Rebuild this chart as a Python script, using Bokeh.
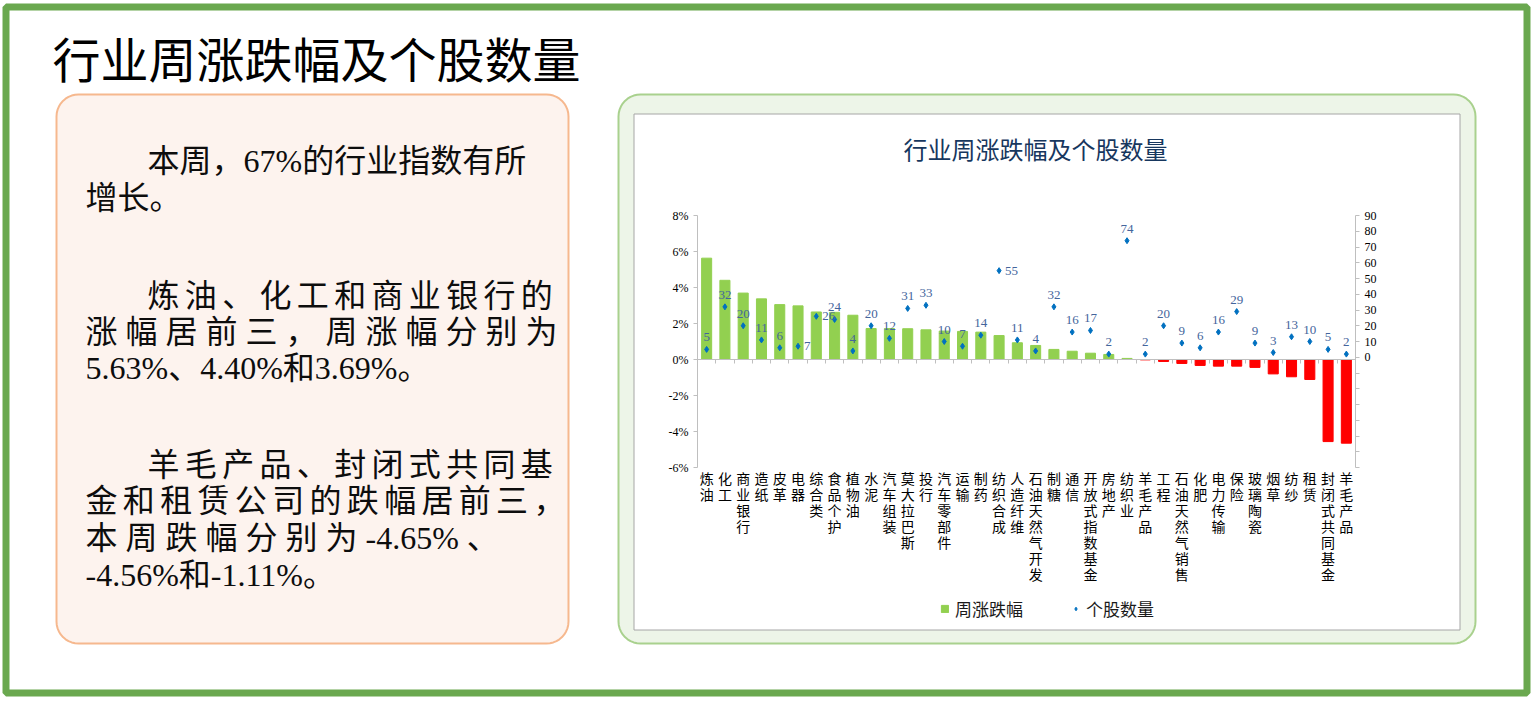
import math
from bokeh.plotting import figure
from bokeh.models import (Range1d, LinearAxis, FixedTicker, PrintfTickFormatter, ColumnDataSource,
                          LabelSet, Legend, LegendItem)
from bokeh.core.properties import value
from bokeh.embed import file_html
from bokeh.resources import INLINE

# ---------------- data ----------------
categories = ["炼油", "化工", "商业银行", "造纸", "皮革", "电器", "综合类", "食品个护", "植物油", "水泥",
              "汽车组装", "莫大拉巴斯", "投行", "汽车零部件", "运输", "制药", "纺织合成", "人造纤维",
              "石油天然气开发", "制糖", "通信", "开放式指数基金", "房地产", "纺织业", "羊毛产品", "工程",
              "石油天然气销售", "化肥", "电力传输", "保险", "玻璃陶瓷", "烟草", "纺纱", "租赁",
              "封闭式共同基金", "羊毛产品"]
weekly_change = [5.63, 4.40, 3.69, 3.37, 3.05, 2.98, 2.64, 2.62, 2.46, 1.72,
                 1.72, 1.71, 1.65, 1.58, 1.56, 1.52, 1.33, 0.93,
                 0.78, 0.56, 0.46, 0.35, 0.28, 0.06, -0.02, -0.11,
                 -0.22, -0.33, -0.37, -0.37, -0.44, -0.80, -0.96, -1.11,
                 -4.56, -4.65]
stock_counts = [5, 32, 20, 11, 6, 7, 26, 24, 4, 20, 12, 31, 33, 10, 7, 14, 55, 11,
                4, 32, 16, 17, 2, 74, 2, 20, 9, 6, 16, 29, 9, 3, 13, 10, 5, 2]
left_ticks = [-6, -4, -2, 0, 2, 4, 6, 8]
right_ticks = list(range(-70, 91, 10))
right_label_idx = [5, 6, 16]   # data labels placed to the right of their point

page_title = "行业周涨跌幅及个股数量"
chart_title = "行业周涨跌幅及个股数量"
series_names = ["周涨跌幅", "个股数量"]
para_lines = [
    ("本周，67%的行业指数有所", True, ""),
    ("增长。", False, ""),
    ("炼油、化工和商业银行的", True, "\u2006"),
    ("涨幅居前三，周涨幅分别为", False, " "),
    ("5.63%、4.40%和3.69%。", False, ""),
    ("羊毛产品、封闭式共同基", True, "\u2006"),
    ("金和租赁公司的跌幅居前三，", False, "\u2006"),
    ("本 周 跌 幅 分 别 为 -4.65%  、", False, ""),
    ("-4.56%和-1.11%。", False, ""),
]
para_line_y = [160, 197, 295, 331, 367, 464, 500, 537, 574]

# ---------------- layout constants (pixels) ----------------
W, H = 1534, 705
FL, FT, FR, FB = 697, 215, 1355, 467          # chart plot area
Y_MIN, Y_MAX = -6, 8
C_MIN, C_MAX = -70, 90
CJK = "Noto Sans CJK SC"
SERIF = "Liberation Serif"
MIXED = "'Liberation Serif', 'Noto Sans CJK SC'"
GRAY = "#BFBFBF"

n = len(categories)
XU = (FR - FL) / n
YU = (FB - FT) / (Y_MAX - Y_MIN)
CU = (FB - FT) / (C_MAX - C_MIN)

p = figure(width=W, height=H, output_backend="svg", toolbar_location=None,
           x_axis_location=None, y_axis_location=None,
           x_range=Range1d(0.5 - FL / XU, 0.5 + (W - FL) / XU),
           y_range=Range1d(Y_MIN - (H - FB) / YU, Y_MAX + FT / YU),
           min_border=0, min_border_left=0, min_border_right=0, min_border_top=0, min_border_bottom=0)
p.title.visible = False
p.extra_y_ranges = {"cnt": Range1d(C_MIN - (H - FB) / CU, C_MAX + FT / CU),
                    "py": Range1d(H, 0)}
p.extra_x_ranges = {"px": Range1d(0, W)}
p.outline_line_color = None
p.background_fill_color = "white"
p.border_fill_color = "white"
p.xgrid.visible = False
p.ygrid.visible = False


def rounded(x0, y0, x1, y1, r, k=10):
    xs_, ys_ = [], []
    corners = [(x1 - r, y0 + r, -90, 0), (x1 - r, y1 - r, 0, 90),
               (x0 + r, y1 - r, 90, 180), (x0 + r, y0 + r, 180, 270)]
    for cx, cy, a0, a1 in corners:
        for j in range(k + 1):
            a = math.radians(a0 + (a1 - a0) * j / k)
            xs_.append(cx + r * math.cos(a))
            ys_.append(cy + r * math.sin(a))
    return xs_, ys_


# ---------------- decorations (pixel space) ----------------
p.quad(left=[5.5], right=[1526.5], top=[6.5], bottom=[692.5], fill_color=None,
       line_color="#6AA84F", line_width=7, x_range_name="px", y_range_name="py")
bx, by = rounded(56, 94, 568, 643, 22)
p.patch(bx, by, fill_color="#FDF3EE", line_color="#F6B88E", line_width=2,
        x_range_name="px", y_range_name="py")
bx, by = rounded(618, 94, 1475, 643, 22)
p.patch(bx, by, fill_color="#EDF5E8", line_color="#A9D18E", line_width=2,
        x_range_name="px", y_range_name="py")
p.quad(left=[633.5], right=[1459.5], top=[113.5], bottom=[629.5], fill_color="white",
       line_color="#A6A6A6", line_width=1, x_range_name="px", y_range_name="py")

# titles and paragraph text
p.text(x=[52], y=[56], text=[page_title], x_range_name="px", y_range_name="py",
       text_font=value(CJK), text_font_size="48px", text_color="black",
       text_align="left", text_baseline="middle")
p.text(x=[1035], y=[148], text=[chart_title], x_range_name="px", y_range_name="py",
       text_font=value(CJK), text_font_size="24px", text_color="#17375E",
       text_align="center", text_baseline="middle")
para_x = [147 if ind else 85 for _, ind, _ in para_lines]
para_t = [(sep.join(list(t)) if sep else t) for t, _, sep in para_lines]
p.text(x=para_x, y=para_line_y, text=para_t, x_range_name="px", y_range_name="py",
       text_font=value(MIXED), text_font_size="32px", text_color="#0d0d0d",
       text_align="left", text_baseline="middle")

# ---------------- chart glyphs ----------------
xs = list(range(1, n + 1))
colors = ["#92D050" if v >= 0 else "#FF0000" for v in weekly_change]
src = ColumnDataSource(dict(x=xs, chg=weekly_change, cnt=stock_counts, color=colors))
above = [i for i in range(n) if i not in right_label_idx]
src_above = ColumnDataSource(dict(x=[xs[i] for i in above], cnt=[stock_counts[i] for i in above],
                                  lbl=[str(stock_counts[i]) for i in above]))
src_right = ColumnDataSource(dict(x=[xs[i] for i in right_label_idx],
                                  cnt=[stock_counts[i] for i in right_label_idx],
                                  lbl=[str(stock_counts[i]) for i in right_label_idx]))

bars = p.vbar(x="x", top="chg", bottom=0, width=0.55, fill_color="color", line_color="color",
              source=src)
dots = p.scatter(x="x", y="cnt", marker="diamond", size=6, fill_color="#0070C0", line_color="#0070C0",
                 y_range_name="cnt", source=src)

p.add_layout(LabelSet(x="x", y="cnt", text="lbl", y_range_name="cnt", source=src_above,
                      text_font=value(SERIF), text_font_size="13px", text_color="#44659C",
                      text_align="center", text_baseline="alphabetic", y_offset=8))
p.add_layout(LabelSet(x="x", y="cnt", text="lbl", y_range_name="cnt", source=src_right,
                      text_font=value(SERIF), text_font_size="13px", text_color="#44659C",
                      text_align="left", text_baseline="middle", x_offset=6))

# ---------------- axes (fixed inside the frame) ----------------
def style_axis(ax):
    ax.axis_line_color = GRAY
    ax.major_tick_line_color = GRAY
    ax.major_tick_out = 4
    ax.major_tick_in = 0
    ax.minor_tick_line_color = None
    ax.major_label_text_font = SERIF
    ax.major_label_text_font_size = "12px"
    ax.major_label_text_color = "black"
    ax.major_label_standoff = 5


ya = LinearAxis(fixed_location=0.5, bounds=(Y_MIN, Y_MAX), ticker=FixedTicker(ticks=left_ticks),
                formatter=PrintfTickFormatter(format="%d%%"))
style_axis(ya)
p.add_layout(ya, "left")

ra = LinearAxis(fixed_location=n + 0.5, y_range_name="cnt", bounds=(C_MIN, C_MAX),
                ticker=FixedTicker(ticks=right_ticks),
                major_label_overrides={t: "" for t in right_ticks if t < 0})
style_axis(ra)
p.add_layout(ra, "right")

za = LinearAxis(fixed_location=0, bounds=(0.5, n + 0.5),
                ticker=FixedTicker(ticks=[i + 0.5 for i in range(n + 1)]))
style_axis(za)
za.major_label_text_font_size = "0px"
za.major_label_text_color = None
p.add_layout(za, "below")

xa = LinearAxis(fixed_location=Y_MIN, bounds=(0.5, n + 0.5), ticker=FixedTicker(ticks=xs),
                major_label_overrides={x: "\n".join(list(c)) for x, c in zip(xs, categories)})
xa.axis_line_color = None
xa.major_tick_line_color = None
xa.major_tick_out = 0
xa.major_tick_in = 0
xa.minor_tick_line_color = None
xa.major_label_standoff = 0
xa.major_label_text_font = CJK
xa.major_label_text_font_size = "14px"
xa.major_label_text_color = "black"
xa.major_label_text_line_height = 0.8
p.add_layout(xa, "below")

# ---------------- legend ----------------
legend = Legend(items=[LegendItem(label=series_names[0], renderers=[bars], index=0),
                       LegendItem(label=series_names[1], renderers=[dots], index=0)],
                location=(940, H - 621), orientation="horizontal",
                border_line_color=None, background_fill_alpha=0, padding=0, margin=0,
                spacing=48, label_standoff=6, glyph_width=9, glyph_height=9,
                label_text_font=CJK, label_text_font_size="17px", label_text_color="#1a1a1a")
p.add_layout(legend)

open("out.html", "w").write(file_html(p, INLINE))
